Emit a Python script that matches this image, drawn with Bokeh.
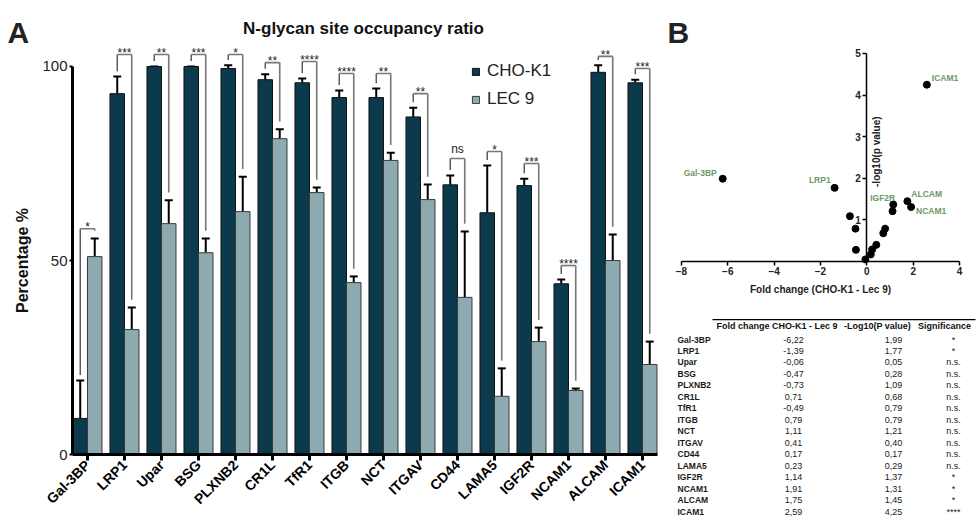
import math
import numpy as np
from bokeh.plotting import figure
from bokeh.models import (ColumnDataSource, Range1d, LinearAxis, FixedTicker, Whisker,
                          TeeHead, Legend, LegendItem, Label)
from bokeh.layouts import row, column
from bokeh.embed import file_html
from bokeh.resources import INLINE
from bokeh.core.properties import value

# ---------------- data ----------------
cats = ["Gal-3BP", "LRP1", "Upar", "BSG", "PLXNB2", "CR1L", "TfR1", "ITGB",
        "NCT", "ITGAV", "CD44", "LAMA5", "IGF2R", "NCAM1", "ALCAM", "ICAM1"]
cho_k1 = [9.3, 93.0, 100.0, 100.0, 99.5, 96.6, 95.8, 92.0,
          92.0, 87.0, 69.5, 62.3, 69.3, 44.0, 98.5, 95.8]
cho_k1_sd = [9.8, 4.4, 0.0, 0.0, 0.8, 1.4, 1.1, 1.8,
             2.3, 2.4, 2.4, 12.2, 1.8, 1.1, 1.8, 0.8]
lec9 = [51.0, 32.2, 59.5, 52.0, 62.6, 81.4, 67.5, 44.3,
        75.8, 65.7, 40.5, 15.0, 29.1, 16.5, 50.0, 23.2]
lec9_sd = [4.7, 5.7, 6.0, 3.7, 9.0, 2.4, 1.3, 1.6,
           2.0, 3.9, 17.0, 7.2, 3.6, 0.5, 6.7, 5.9]
significance = ["*", "***", "**", "***", "*", "**", "****", "****",
                "**", "**", "ns", "*", "***", "****", "**", "***"]
bracket_top = [58.2, 103.1, 103.1, 103.1, 103.1, 101.0, 101.3, 98.2,
               98.2, 93.0, 76.3, 78.1, 75.0, 48.7, 102.6, 99.5]
y_ticks = [0, 50, 100]

fold_change = [-6.22, -1.39, -0.06, -0.47, -0.73, 0.71, -0.49, 0.79,
               1.11, 0.41, 0.17, 0.23, 1.14, 1.91, 1.75, 2.59]
neg_log10_p = [1.99, 1.77, 0.05, 0.28, 1.09, 0.68, 0.79, 0.79,
               1.21, 0.40, 0.17, 0.29, 1.37, 1.31, 1.45, 4.25]
table_significance = ["*", "*", "n.s.", "n.s.", "n.s.", "n.s.", "n.s.", "n.s.",
                      "n.s.", "n.s.", "n.s.", "n.s.", "*", "*", "*", "****"]
volcano_labels = ["Gal-3BP", "LRP1", "IGF2R", "ALCAM", "NCAM1", "ICAM1"]
volcano_x_ticks = [-8, -6, -4, -2, 0, 2, 4]
volcano_y_ticks = [1, 2, 3, 4, 5]

# ---------------- styles ----------------
FONT = "Liberation Sans"
DARK = "#0a3a4b"
LIGHT = "#8eaab1"
GREEN = "#6a9a6a"
BRACKET = "#777777"

n = len(cats)
idx = np.arange(n)
OFF = 0.196
BW = 0.392
GAP_L = 1.4
GAP_R = 2.0
X_LEFT = -0.405
X_RIGHT = 15.405

cho_arr = np.array(cho_k1)
lec_arr = np.array(lec9)
cho_up = cho_arr + np.array(cho_k1_sd)
lec_up = lec_arr + np.array(lec9_sd)
btop = np.array(bracket_top)

src = ColumnDataSource(dict(
    x_c=idx - OFF, x_l=idx + OFF, cho=cho_arr, lec=lec_arr,
    cho_up=cho_up, lec_up=lec_up,
))

# ---------------- Panel A ----------------
pa = figure(width=665, height=524, x_range=Range1d(-2.351, 15.622), y_range=Range1d(-18.04, 117.01),
            min_border=0, x_axis_type=None, y_axis_type=None,
            output_backend="svg", toolbar_location=None, outline_line_color=None)
pa.xgrid.visible = False
pa.ygrid.visible = False

r1 = pa.vbar(x="x_c", top="cho", bottom=0, width=BW, fill_color=DARK,
             line_color="#111111", line_width=1, source=src)
r2 = pa.vbar(x="x_l", top="lec", bottom=0, width=BW, fill_color=LIGHT,
             line_color="#3a3a3a", line_width=1, source=src)

for lo, up, base in (("cho", "cho_up", "x_c"), ("lec", "lec_up", "x_l")):
    pa.add_layout(Whisker(source=src, base=base, lower=lo, upper=up, dimension="height",
                          line_width=2, line_color="black", lower_head=None,
                          upper_head=TeeHead(size=8, line_width=2, line_color="black")))

# significance brackets
pa.segment(x0=idx - OFF, x1=idx - OFF, y0=btop, y1=cho_up + GAP_L,
           line_color="#444444", line_width=1.3)
pa.segment(x0=idx - OFF, x1=idx + OFF, y0=btop, y1=btop,
           line_color=BRACKET, line_width=1.6)
pa.segment(x0=idx + OFF, x1=idx + OFF, y0=btop, y1=lec_up + GAP_R,
           line_color=BRACKET, line_width=1.6)

star_y = [b + (2.4 if s == "ns" else 0.4) for b, s in zip(bracket_top, significance)]
pa.text(x=idx, y=star_y, text=significance, text_align="center", text_baseline="alphabetic",
        text_font=value(FONT), text_font_size="12px", text_color="#222222")

# axes (fixed at the data origin so the frame can span the whole panel)
yax_a = LinearAxis(fixed_location=X_LEFT, bounds=(0, 100), ticker=FixedTicker(ticks=y_ticks))
yax_a.axis_line_width = 3
yax_a.major_tick_line_width = 2
yax_a.major_tick_out = 3
yax_a.major_tick_in = 0
yax_a.minor_tick_line_color = None
yax_a.major_label_standoff = 2
yax_a.major_label_text_font = FONT
yax_a.major_label_text_font_size = "15px"
yax_a.major_label_text_color = "#222222"
yax_a.axis_label = "Percentage %"
yax_a.axis_label_text_font = FONT
yax_a.axis_label_text_font_style = "bold"
yax_a.axis_label_text_font_size = "16px"
yax_a.axis_label_text_color = "#111111"
yax_a.axis_label_standoff = 8
pa.add_layout(yax_a, "left")

xax_a = LinearAxis(fixed_location=0, bounds=(X_LEFT, X_RIGHT), ticker=FixedTicker(ticks=list(range(n))))
xax_a.major_label_overrides = {i: c for i, c in enumerate(cats)}
xax_a.major_label_orientation = math.pi / 4
xax_a.major_label_text_font = FONT
xax_a.major_label_text_font_style = "bold"
xax_a.major_label_text_font_size = "14px"
xax_a.major_label_text_color = "black"
xax_a.major_label_standoff = 2
xax_a.axis_line_width = 3
xax_a.major_tick_line_width = 3
xax_a.major_tick_out = 6
xax_a.major_tick_in = 0
xax_a.minor_tick_line_color = None
pa.add_layout(xax_a, "below")

legend = Legend(items=[LegendItem(label="CHO-K1", renderers=[r1]),
                       LegendItem(label="LEC 9", renderers=[r2])],
                location=(471, 415), orientation="vertical",
                glyph_width=9, glyph_height=9, label_height=20, spacing=8,
                label_standoff=7, padding=0, margin=0,
                label_text_font=FONT, label_text_font_size="17px",
                label_text_color="#222222",
                border_line_color=None, background_fill_alpha=0)
pa.add_layout(legend)

pa.add_layout(Label(x=7.46, y=109.8, text="N-glycan site occupancy ratio", text_align="center",
                    text_baseline="alphabetic", text_font=FONT, text_font_style="bold",
                    text_font_size="17px", text_color="#111111"))
pa.add_layout(Label(x=-2.16, y=108.8, text="A", text_align="left", text_baseline="alphabetic",
                    text_font=FONT, text_font_style="bold", text_font_size="30px",
                    text_color="#222222"))

# ---------------- Panel B (volcano) ----------------
pb = figure(width=311, height=310, x_range=Range1d(-8.69, 4.734), y_range=Range1d(-1.178, 6.274),
            min_border=0, x_axis_type=None, y_axis_type=None, output_backend="svg",
            toolbar_location=None, outline_line_color=None)
pb.xgrid.visible = False
pb.ygrid.visible = False

xax = LinearAxis(fixed_location=0, bounds=(-8, 4), ticker=FixedTicker(ticks=volcano_x_ticks),
                 axis_label="Fold change (CHO-K1 - Lec 9)")
yax = LinearAxis(fixed_location=0, bounds=(0, 5), ticker=FixedTicker(ticks=volcano_y_ticks))
for ax in (xax, yax):
    ax.axis_line_width = 1.5
    ax.major_tick_line_width = 1.5
    ax.major_tick_out = 4
    ax.major_tick_in = 0
    ax.minor_tick_line_color = None
    ax.major_label_text_font = FONT
    ax.major_label_text_font_style = "bold"
    ax.major_label_text_font_size = "10px"
    ax.major_label_text_color = "#222222"
    ax.major_label_standoff = 2
xax.axis_label_text_font = FONT
xax.axis_label_text_font_style = "bold"
xax.axis_label_text_font_size = "10px"
xax.axis_label_text_color = "#222222"
xax.axis_label_standoff = 5
pb.add_layout(xax, "below")
pb.add_layout(yax, "left")

pb.scatter(fold_change, neg_log10_p, size=7, color="black")

place = {"Gal-3BP": ("right", -6, 6), "LRP1": ("right", -4, 8), "IGF2R": ("right", 2, 7),
         "ALCAM": ("left", 4, 7), "NCAM1": ("left", 5, -4), "ICAM1": ("left", 5, 7)}
lab_idx = [cats.index(c) for c in volcano_labels]
lab_src = ColumnDataSource(dict(
    x=[fold_change[i] for i in lab_idx], y=[neg_log10_p[i] for i in lab_idx],
    text=volcano_labels,
    align=[place[c][0] for c in volcano_labels],
    xo=[place[c][1] for c in volcano_labels],
    yo=[-place[c][2] for c in volcano_labels],
))
pb.text(x="x", y="y", text="text", text_align="align", x_offset="xo", y_offset="yo",
        text_baseline="middle", text_font=value(FONT), text_font_style="bold",
        text_font_size="8.5px", text_color=GREEN, source=lab_src)

pb.add_layout(Label(x=0, y=2.64, x_offset=10, angle=math.pi / 2, text="-log10(p value)",
                    text_align="center", text_baseline="middle", text_font=FONT,
                    text_font_style="bold", text_font_size="10px", text_color="#222222"))
pb.add_layout(Label(x=-8.6, y=5.5, text="B", text_align="left", text_baseline="alphabetic",
                    text_font=FONT, text_font_style="bold", text_font_size="30px",
                    text_color="#222222"))

# ---------------- Table ----------------
pt = figure(width=311, height=214, x_range=Range1d(0, 311), y_range=Range1d(16.13, -2.53),
            min_border=0, x_axis_type=None, y_axis_type=None, output_backend="svg",
            toolbar_location=None, outline_line_color=None)
pt.xgrid.visible = False
pt.ygrid.visible = False

def fmt(v):
    return f"{v:.2f}".replace(".", ",")

tsrc = ColumnDataSource(dict(
    y=idx, name=cats, fc=[fmt(v) for v in fold_change], lp=[fmt(v) for v in neg_log10_p],
    sig=table_significance,
))
common = dict(text_baseline="middle", text_font=value(FONT), text_color="#1a1a1a", source=tsrc)
pt.text(x=12, y="y", text="name", text_align="left", text_font_style="bold",
        text_font_size="8.5px", **common)
pt.text(x=128, y="y", text="fc", text_align="center", text_font_size="9px", **common)
pt.text(x=228, y="y", text="lp", text_align="center", text_font_size="9px", **common)
pt.text(x=288, y="y", text="sig", text_align="center", text_font_size="9px", **common)

header = ["Fold change CHO-K1 - Lec 9", "-Log10(P value)", "Significance"]
pt.text(x=[111.5, 212, 279], y=[-1.22] * 3, text=header, text_align="center",
        text_baseline="middle", text_font=value(FONT), text_font_style="bold",
        text_font_size="9px", text_color="#111111")
pt.segment(x0=[47], x1=[310], y0=[-1.74], y1=[-1.74], line_color="black", line_width=1.2)

layout = row(pa, column(pb, pt))
open("out.html", "w").write(file_html(layout, INLINE))
